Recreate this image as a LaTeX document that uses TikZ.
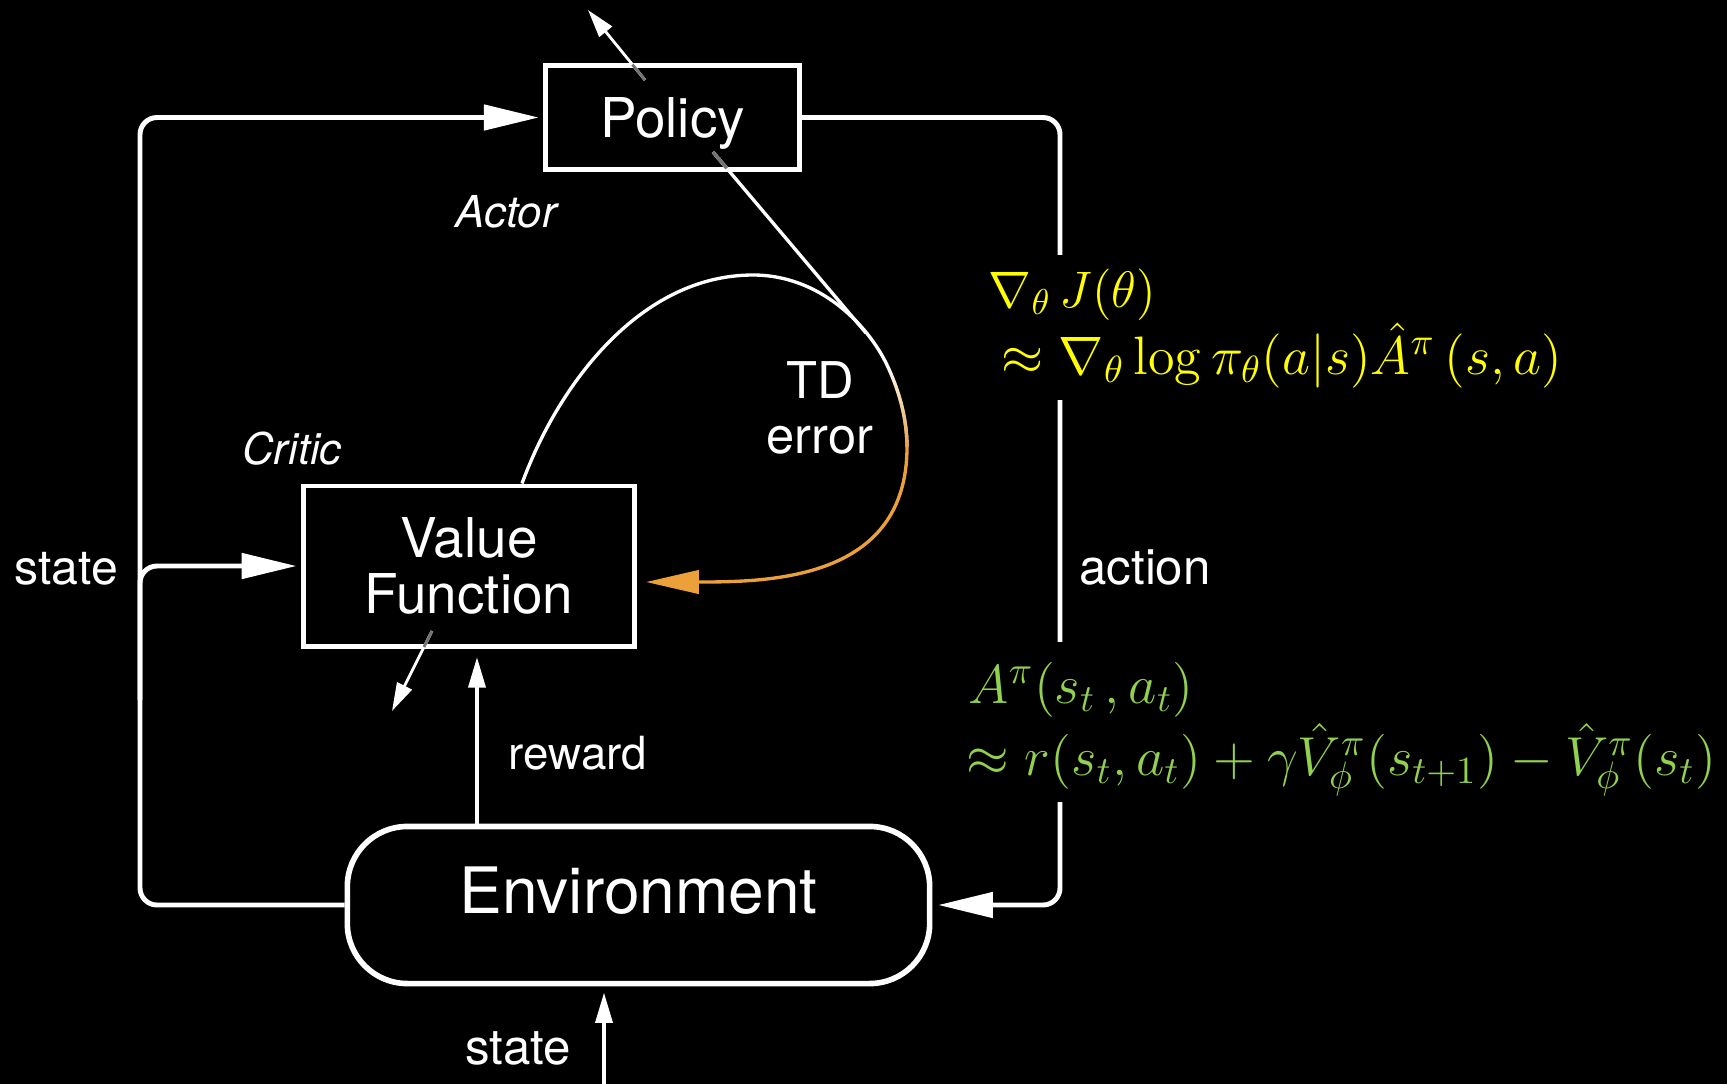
\RequirePackage{fix-cm}
\documentclass[tikz,border=0pt]{standalone}
\usepackage[no-math]{fontspec}
\setmainfont{TeX Gyre Heros}
\usetikzlibrary{arrows.meta,calc,fadings}

\definecolor{tdorange}{RGB}{236,160,58}
\definecolor{fyellow}{RGB}{255,255,0}
\definecolor{fgreen}{RGB}{146,208,80}

\begin{document}
\begin{tikzpicture}[x=0.01cm,y=-0.01cm,
  box/.style={draw=white, fill=black, line width=1.4pt, text=white, inner sep=0pt},
  flow/.style={draw=white, line width=1.4pt, rounded corners=0.17cm},
  bigtip/.style={-{Triangle[length=15.6pt,width=7.1pt]}},
  smalltip/.style={-{Triangle[length=8.8pt,width=4.7pt]}},
  tinytip/.style={-{Triangle[length=8pt,width=4.6pt]}},
  stub/.style={draw=white, line width=0.8pt},
  stubin/.style={draw=white!45!black, line width=0.8pt},
  tdcurve/.style={draw=white, line width=0.95pt},
  lbl/.style={text=white, inner sep=0pt, anchor=base},
  formula/.style={inner sep=0pt, anchor=base west}
]
% background and page size
\fill[black] (0,0) rectangle (1727,1084);
\useasboundingbox (0,0) rectangle (1727,1084);

% blocks
\node[box, minimum width=2.54cm, minimum height=1.04cm,
      font=\fontsize{15.6}{16}\selectfont, text height=14.4pt, text depth=3.3pt]
      (policy) at (672.5,117.5) {Policy};
\node[box, minimum width=3.3cm, minimum height=1.6cm, align=center,
      font=\fontsize{15.6}{15.9}\selectfont]
      (value) at (469,566) {Value\\Function};
\node[box, rounded corners=0.6cm, minimum width=5.82cm, minimum height=1.57cm,
      line width=1.6pt, font=\fontsize{18.2}{20}\selectfont, text depth=8.5pt]
      (env) at (638.5,905) {Environment};

% helper points for the loops
\coordinate (lc) at (140,300);
\coordinate (lb) at (140,700);
\coordinate (rc) at (1060,500);
\coordinate (rx) at (477,0);
\coordinate (sb) at (604,1084);

% state loop on the left
\draw[flow, bigtip, shorten >=1.2pt] (env.west) -| (lc) |- (policy.west);
\draw[flow, bigtip, shorten >=1.4pt] (lb) |- (value.west);
% action loop on the right
\draw[flow, bigtip, shorten >=1.6pt] (policy.east) -| (rc) |- (env.east);
% reward and incoming state
\draw[flow, smalltip, shorten >=2.3pt] (env.north -| rx) -- (value.south -| rx);
\draw[flow, smalltip, shorten >=1.6pt] (sb) -- (sb |- env.south);

% actor output
\coordinate (pu0) at (645,80);
\coordinate (pu1) at (588,10);
\draw[stub, tinytip] (pu0) -- (pu1);
\draw[stubin] (pu0) -- ($(pu0)!0.22!(pu1)$);

% critic output
\coordinate (vo0) at (432,631);
\coordinate (vo1) at (392,711);
\draw[stub, tinytip] (vo0) -- (vo1);
\draw[stubin] (vo0) -- ($(vo0)!0.2!(vo1)$);

% TD error loop
\coordinate (c0x) at (522,0);
\coordinate (c1) at (753,275);
\coordinate (c2) at (887,365);
\coordinate (c3) at (907,447);
\coordinate (c4y) at (0,582);
\draw[tdcurve] (c0x |- value.north) .. controls (558,385) and (640,275) .. (c1)
      .. controls (820,275) and (868,325) .. (c2)
      .. controls (897,386) and (907,415) .. (c3);
\draw[tdcurve, draw=tdorange, path fading=north]
      (c2) .. controls (897,386) and (907,415) .. (c3);
\draw[tdcurve, draw=tdorange, -{Triangle[length=15pt,width=6.6pt]}, shorten >=2.7pt]
      (c3) .. controls (907,580) and (770,582) .. (value.east |- c4y);

% TD error feeding the actor
\coordinate (pd0) at (713,152);
\coordinate (pd1) at (866,333);
\draw[stub, line width=0.95pt] (pd0) -- (pd1);
\draw[stubin, line width=0.95pt] (pd0) -- ($(pd0)!0.09!(pd1)$);

% labels
\node[lbl, font=\fontsize{13.7}{14}\selectfont] (stl) at (66,584) {state};
\node[lbl, font=\fontsize{14}{14}\selectfont] (stb) at (518,1064) {state};
\node[lbl, font=\fontsize{13}{14}\selectfont] (rew) at (578,769) {reward};
\node[lbl, font=\fontsize{14}{14}\selectfont] (act) at (1145,584) {action};
\node[lbl, font=\fontsize{12.5}{14}\selectfont\itshape] (actor) at (506.5,227) {Actor};
\node[lbl, font=\fontsize{12.4}{14}\selectfont\itshape] (critic) at (292,464) {Critic};
\node[text=white, inner sep=0pt, align=center, font=\fontsize{14.4}{15.6}\selectfont]
      (td) at (820,408) {TD\\error};

% formula panels
\fill[black] (985,255) rectangle (1294,400);
\fill[black] (950,642) rectangle (1300,802);
\node[formula, text=fyellow, font=\fontsize{14.6}{17}\selectfont] (pg1) at (988,307)
      {$\nabla_\theta\, J(\theta)$};
\node[formula, text=fyellow, font=\fontsize{15.4}{17}\selectfont] (pg2) at (1001,374)
      {$\approx \nabla_\theta \log \pi_\theta(a|s)\hat{A}^\pi\,(s,a)$};
\node[formula, text=fgreen, font=\fontsize{15.6}{17}\selectfont] (adv1) at (968,703)
      {$A^\pi(s_t\,, a_t)$};
\node[formula, text=fgreen, font=\fontsize{15.6}{17}\selectfont] (adv2) at (966,775)
      {$\approx r(s_t, a_t) + \gamma \hat{V}^\pi_\phi(s_{t+1}) - \hat{V}^\pi_\phi(s_t)$};
\end{tikzpicture}
\end{document}
